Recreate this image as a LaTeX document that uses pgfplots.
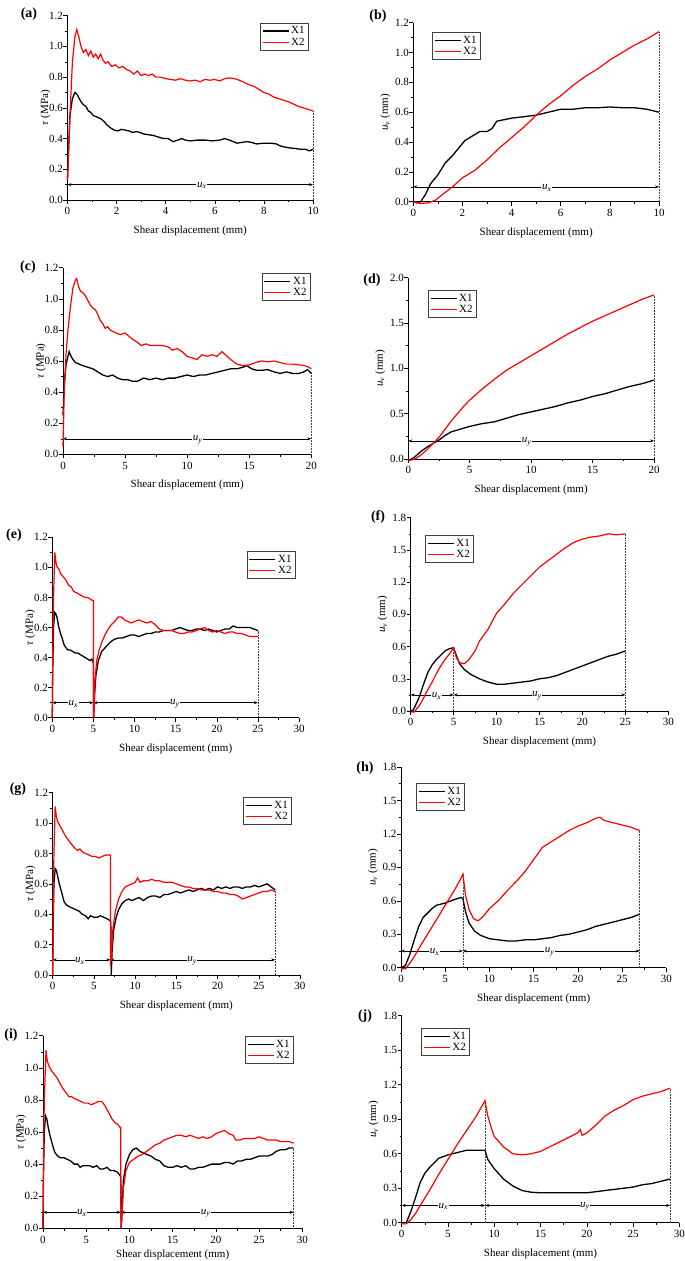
\documentclass[border=0pt]{standalone}
\usepackage{fontspec}
\setmainfont{Liberation Serif}
\usepackage{pgfplots}
\pgfplotsset{compat=1.18}
\usetikzlibrary{arrows.meta}
\tikzset{
 annot/.style={{Stealth[length=4pt,width=3pt]}-{Stealth[length=4pt,width=3pt]}, line width=0.5pt, black},
 dotl/.style={densely dotted, line width=0.55pt, black!75},
 ulab/.style={fill=white, inner sep=0.6pt, font=\fontsize{11}{12}\selectfont, yshift=-1pt},
 plab/.style={font=\bfseries\fontsize{14}{16}\selectfont},
}
\pgfplotsset{
 panel/.style={
  scale only axis, anchor=south west,
  axis lines=left, axis line style={-, line width=0.6pt},
  tick align=outside, major tick length=4pt, minor tick length=2.2pt,
  every tick/.style={black, line width=0.5pt},
  minor tick num=1,
  ymin=0, xmin=0,
  xlabel={Shear displacement (mm)},
  label style={font=\fontsize{11}{12}\selectfont},
  xlabel style={yshift=-4pt},
  tick label style={font=\fontsize{11}{12}\selectfont},
  /pgf/number format/assume math mode=true,
  clip=false,
  legend cell align=left,
  legend style={font=\fontsize{11}{12}\selectfont, draw=black!75, line width=0.8pt, inner sep=1.5pt, row sep=-1.5pt, anchor=north west},
  legend image code/.code={\draw[#1, line width=1.3pt] (0pt,0pt) -- (26pt,0pt);},
  yticklabel style={xshift=3pt, /pgf/number format/.cd, fixed, fixed zerofill, precision=1},
  xticklabel style={/pgf/number format/.cd, fixed, precision=0},
 },
 taupanel/.style={panel, ymax=1.2, ytick={0,0.2,0.4,0.6,0.8,1.0,1.2}, ylabel={\textit{τ} (MPa)}, ylabel style={yshift=-8pt}},
 uvpanel/.style={panel, ylabel={\textit{u}\textsubscript{\textit{v}} (mm)}, ylabel style={yshift=-2pt}},
 x30/.style={xmax=30, xtick={0,5,10,15,20,25,30}},
 bl/.style={black, line width=1.3pt},
 rd/.style={red, line width=1.2pt},
}
\newcommand{\ux}{\textit{u}\textsubscript{\textit{x}}}
\newcommand{\uy}{\textit{u}\textsubscript{\textit{y}}}
\begin{document}
\begin{tikzpicture}
\path[use as bounding box] (0pt,0pt) rectangle (685pt,-1261pt);
% ---------------- (a)
\node[plab] at (29pt,-14pt) {(a)};
\begin{axis}[taupanel, at={(67.5pt,-200pt)}, width=245.5pt, height=184.3pt,
 xmax=10, xtick={0,2,4,6,8,10}, legend style={at={(0.784,0.962)}}]
\draw[annot] (axis cs:0,0.1) -- (axis cs:10,0.1);
\node[ulab] at (axis cs:5.47,0.1) {\ux};
\draw[dotl] (axis cs:10,0) -- (axis cs:10,0.58);
\addplot[bl] coordinates {(0,0.13) (0.05,0.35) (0.1,0.55) (0.2,0.66) (0.3,0.70) (0.38,0.69) (0.45,0.67) (0.55,0.64) (0.65,0.62) (0.75,0.61) (0.85,0.58) (0.95,0.57) (1.05,0.55) (1.2,0.54) (1.35,0.53) (1.5,0.51) (1.6,0.49) (1.75,0.47) (1.9,0.455) (2.05,0.45) (2.2,0.46) (2.35,0.455) (2.5,0.45) (2.65,0.44) (2.8,0.445) (2.95,0.44) (3.1,0.43) (3.3,0.425) (3.5,0.42) (3.7,0.41) (3.9,0.40) (4.1,0.40) (4.3,0.38) (4.5,0.39) (4.65,0.40) (4.8,0.39) (5.0,0.385) (5.3,0.39) (5.6,0.39) (5.9,0.385) (6.2,0.39) (6.4,0.40) (6.6,0.39) (6.9,0.37) (7.1,0.375) (7.3,0.38) (7.5,0.375) (7.7,0.365) (8.0,0.37) (8.3,0.37) (8.5,0.365) (8.7,0.35) (9.0,0.34) (9.3,0.335) (9.5,0.33) (9.7,0.33) (9.85,0.32) (10,0.33)};
\addlegendentry{X1}
\addplot[rd] coordinates {(0,0.13) (0.1,0.55) (0.2,0.9) (0.3,1.06) (0.38,1.11) (0.45,1.07) (0.55,1.0) (0.65,0.96) (0.75,0.98) (0.85,0.94) (0.95,0.97) (1.05,0.93) (1.15,0.95) (1.25,0.92) (1.35,0.95) (1.45,0.91) (1.55,0.89) (1.65,0.90) (1.8,0.87) (1.95,0.88) (2.1,0.86) (2.25,0.87) (2.4,0.85) (2.55,0.84) (2.7,0.82) (2.85,0.84) (3.0,0.81) (3.15,0.82) (3.3,0.81) (3.45,0.82) (3.6,0.80) (3.8,0.80) (4.0,0.79) (4.2,0.785) (4.4,0.78) (4.6,0.79) (4.8,0.78) (5.0,0.775) (5.2,0.78) (5.4,0.77) (5.6,0.785) (5.8,0.78) (6.0,0.785) (6.2,0.775) (6.4,0.79) (6.6,0.795) (6.8,0.79) (7.0,0.78) (7.2,0.765) (7.4,0.75) (7.6,0.74) (7.8,0.72) (8.0,0.70) (8.2,0.69) (8.4,0.67) (8.6,0.66) (8.8,0.65) (9.0,0.64) (9.2,0.625) (9.4,0.61) (9.6,0.60) (9.8,0.59) (10,0.58)};
\addlegendentry{X2}
\end{axis}
% ---------------- (b)
\node[plab] at (378pt,-16pt) {(b)};
\begin{axis}[uvpanel, at={(413.3pt,-201.7pt)}, width=245.7pt, height=179pt,
 xmax=10, xtick={0,2,4,6,8,10}, ymax=1.2, ytick={0,0.2,0.4,0.6,0.8,1.0,1.2}, legend style={at={(0.076,0.948)}}]
\draw[annot] (axis cs:0,0.1) -- (axis cs:10,0.1);
\node[ulab] at (axis cs:5.43,0.1) {\ux};
\draw[dotl] (axis cs:10,0) -- (axis cs:10,1.14);
\addplot[bl] coordinates {(0,0) (0.15,-0.008) (0.3,0.0) (0.5,0.05) (0.7,0.12) (1,0.18) (1.3,0.26) (1.6,0.31) (1.9,0.37) (2.1,0.41) (2.4,0.44) (2.7,0.47) (3,0.47) (3.2,0.49) (3.4,0.54) (3.7,0.55) (4,0.56) (4.5,0.57) (5,0.58) (5.5,0.60) (6,0.62) (6.5,0.62) (7,0.63) (7.5,0.63) (8,0.635) (8.5,0.63) (9,0.63) (9.5,0.62) (10,0.60)};
\addlegendentry{X1}
\addplot[rd] coordinates {(0,0) (0.3,-0.012) (0.6,-0.008) (0.9,0.01) (1.2,0.05) (1.6,0.1) (2,0.16) (2.5,0.21) (3,0.28) (3.5,0.36) (4,0.43) (4.5,0.5) (5,0.58) (5.5,0.65) (6,0.71) (6.5,0.78) (7,0.84) (7.5,0.89) (8,0.95) (8.5,1.0) (9,1.05) (9.5,1.09) (10,1.14)};
\addlegendentry{X2}
\end{axis}
% ---------------- (c)
\node[plab] at (28pt,-267pt) {(c)};
\begin{axis}[taupanel, at={(63pt,-454.3pt)}, width=248.3pt, height=186.6pt,
 xmax=20, xtick={0,5,10,15,20}, legend style={at={(0.801,0.972)}}]
\draw[annot] (axis cs:0,0.1) -- (axis cs:20,0.1);
\node[ulab] at (axis cs:10.85,0.1) {\uy};
\draw[dotl] (axis cs:20,0) -- (axis cs:20,0.52);
\addplot[bl] coordinates {(0,0.25) (0.1,0.45) (0.25,0.58) (0.4,0.63) (0.5,0.66) (0.65,0.63) (0.8,0.61) (1.0,0.59) (1.3,0.58) (1.6,0.57) (2.0,0.56) (2.4,0.55) (2.8,0.53) (3.2,0.51) (3.6,0.50) (4.0,0.51) (4.4,0.49) (4.8,0.48) (5.2,0.48) (5.6,0.47) (6.0,0.47) (6.5,0.49) (7.0,0.48) (7.5,0.49) (8.0,0.48) (8.5,0.49) (9.0,0.49) (9.5,0.50) (10.0,0.51) (10.5,0.50) (11.0,0.51) (11.5,0.51) (12.0,0.52) (12.5,0.53) (13.0,0.54) (13.5,0.55) (14.0,0.55) (14.5,0.56) (14.8,0.57) (15.2,0.55) (15.6,0.54) (16.0,0.54) (16.5,0.545) (17.0,0.53) (17.5,0.52) (18.0,0.53) (18.5,0.52) (19.0,0.52) (19.4,0.53) (19.7,0.545) (20.0,0.52)};
\addlegendentry{X1}
\addplot[rd] coordinates {(0,0.05) (0.1,0.4) (0.25,0.65) (0.4,0.8) (0.6,0.95) (0.8,1.07) (1.0,1.12) (1.1,1.13) (1.25,1.08) (1.4,1.05) (1.6,1.04) (1.8,1.02) (2.0,0.99) (2.2,0.96) (2.4,0.94) (2.6,0.93) (2.8,0.90) (3.0,0.86) (3.2,0.84) (3.4,0.81) (3.6,0.82) (3.8,0.80) (4.0,0.79) (4.3,0.78) (4.6,0.77) (5.0,0.78) (5.3,0.76) (5.6,0.74) (6.0,0.72) (6.3,0.70) (6.7,0.71) (7.0,0.70) (7.5,0.70) (8.0,0.70) (8.5,0.69) (8.8,0.67) (9.2,0.68) (9.6,0.66) (10.0,0.63) (10.4,0.62) (10.8,0.61) (11.2,0.64) (11.6,0.63) (12.0,0.64) (12.4,0.63) (12.8,0.66) (13.1,0.64) (13.5,0.61) (14.0,0.58) (14.5,0.57) (15.0,0.575) (15.5,0.59) (16.0,0.60) (16.5,0.595) (17.0,0.60) (17.5,0.59) (18.0,0.58) (18.5,0.58) (19.0,0.575) (19.5,0.57) (19.8,0.56) (20.0,0.55)};
\addlegendentry{X2}
\end{axis}
% ---------------- (d)
\node[plab] at (372pt,-280pt) {(d)};
\begin{axis}[uvpanel, at={(408.3pt,-459pt)}, width=245.7pt, height=181.3pt,
 xmax=20, xtick={0,5,10,15,20}, ymax=2.0, ytick={0,0.5,1.0,1.5,2.0}, legend style={at={(0.080,0.932)}}]
\draw[annot] (axis cs:0,0.2) -- (axis cs:20,0.2);
\node[ulab] at (axis cs:9.63,0.2) {\uy};
\draw[dotl] (axis cs:20,0) -- (axis cs:20,1.81);
\addplot[bl] coordinates {(0,-0.02) (0.5,0.02) (1,0.08) (1.5,0.13) (2,0.17) (2.5,0.21) (3,0.26) (3.5,0.30) (4,0.32) (5,0.36) (6,0.39) (7,0.41) (8,0.45) (9,0.49) (10,0.52) (11,0.55) (12,0.58) (13,0.62) (14,0.65) (15,0.69) (16,0.72) (17,0.76) (18,0.80) (19,0.83) (20,0.87)};
\addlegendentry{X1}
\addplot[rd] coordinates {(0,-0.02) (0.5,0.0) (1,0.04) (1.5,0.1) (2,0.17) (2.5,0.24) (3,0.33) (3.5,0.42) (4,0.50) (4.5,0.58) (5,0.65) (6,0.77) (7,0.88) (8,0.98) (9,1.06) (10,1.14) (11,1.22) (12,1.30) (13,1.38) (14,1.45) (15,1.52) (16,1.58) (17,1.64) (18,1.70) (19,1.76) (20,1.81)};
\addlegendentry{X2}
\end{axis}
% ---------------- (e)
\node[plab] at (14pt,-535pt) {(e)};
\begin{axis}[taupanel, x30, at={(52.3pt,-717.7pt)}, width=246.7pt, height=180.4pt,
 legend style={at={(0.789,0.924)}}]
\draw[annot] (axis cs:0,0.1) -- (axis cs:5,0.1);
\draw[annot] (axis cs:5,0.1) -- (axis cs:25,0.1);
\node[ulab] at (axis cs:2.55,0.1) {\ux};
\node[ulab] at (axis cs:14.9,0.1) {\uy};
\draw[dotl] (axis cs:25,0) -- (axis cs:25,0.58);
\addplot[bl] coordinates {(0,0.0) (0.05,0.3) (0.15,0.6) (0.3,0.70) (0.45,0.69) (0.6,0.66) (0.8,0.60) (1.0,0.56) (1.2,0.53) (1.4,0.49) (1.6,0.47) (1.9,0.45) (2.2,0.45) (2.5,0.44) (2.8,0.43) (3.1,0.43) (3.4,0.42) (3.7,0.41) (4.0,0.40) (4.3,0.39) (4.6,0.38) (4.8,0.39) (4.95,0.37) (5.0,0.36) (5.03,0.0) (5.1,0.12) (5.3,0.28) (5.6,0.38) (6.0,0.44) (6.5,0.47) (7.0,0.50) (7.5,0.52) (8.0,0.53) (8.5,0.53) (9.0,0.54) (9.5,0.55) (10.0,0.55) (10.5,0.54) (11.0,0.55) (11.5,0.56) (12.0,0.56) (12.5,0.57) (13.0,0.57) (13.5,0.58) (14.0,0.58) (14.5,0.58) (15.0,0.59) (15.5,0.60) (16.0,0.59) (16.5,0.58) (17.0,0.58) (17.5,0.59) (18.0,0.59) (18.5,0.58) (19.0,0.59) (19.5,0.58) (20.0,0.57) (20.5,0.58) (21.0,0.59) (21.5,0.59) (22.0,0.61) (22.5,0.60) (23.0,0.60) (23.5,0.60) (24.0,0.60) (24.5,0.59) (25.0,0.58)};
\addlegendentry{X1}
\addplot[rd] coordinates {(0,0.0) (0.05,0.4) (0.15,0.8) (0.3,1.10) (0.45,1.03) (0.6,1.0) (0.8,0.99) (1.0,0.96) (1.3,0.94) (1.6,0.92) (2.0,0.88) (2.3,0.87) (2.6,0.84) (3.0,0.83) (3.3,0.82) (3.6,0.81) (4.0,0.80) (4.3,0.80) (4.6,0.79) (4.9,0.78) (5.0,0.78) (5.01,0.0) (5.05,0.0) (5.2,0.25) (5.4,0.38) (5.7,0.45) (6.0,0.50) (6.4,0.55) (6.8,0.59) (7.2,0.62) (7.6,0.64) (8.0,0.67) (8.4,0.67) (8.8,0.65) (9.2,0.64) (9.6,0.63) (10.0,0.64) (10.5,0.65) (11.0,0.64) (11.5,0.63) (12.0,0.64) (12.5,0.62) (13.0,0.59) (13.5,0.58) (14.0,0.58) (14.5,0.58) (15.0,0.57) (15.5,0.56) (16.0,0.56) (16.5,0.57) (17.0,0.57) (17.5,0.58) (18.0,0.59) (18.5,0.60) (19.0,0.58) (19.5,0.57) (20.0,0.58) (20.5,0.57) (21.0,0.56) (21.5,0.57) (22.0,0.57) (22.5,0.56) (23.0,0.56) (23.5,0.55) (24.0,0.54) (24.5,0.54) (25.0,0.54)};
\addlegendentry{X2}
\end{axis}
% ---------------- (f)
\node[plab] at (378pt,-517pt) {(f)};
\begin{axis}[uvpanel, x30, at={(410.7pt,-711pt)}, width=257.6pt, height=193.3pt,
 ymax=1.8, ytick={0,0.3,0.6,0.9,1.2,1.5,1.8}, legend style={at={(0.056,0.910)}}]
\draw[annot] (axis cs:0,0.15) -- (axis cs:5,0.15);
\draw[annot] (axis cs:5,0.15) -- (axis cs:25,0.15);
\node[ulab] at (axis cs:3.0,0.15) {\ux};
\node[ulab] at (axis cs:14.7,0.15) {\uy};
\draw[dotl] (axis cs:5,0) -- (axis cs:5,0.59);
\draw[dotl] (axis cs:25,0) -- (axis cs:25,1.65);
\addplot[bl] coordinates {(0,0.0) (0.3,0.01) (0.6,0.06) (1,0.13) (1.5,0.25) (2,0.36) (2.5,0.43) (3,0.48) (3.5,0.52) (4,0.56) (4.5,0.58) (5,0.59) (5.3,0.52) (5.7,0.44) (6.2,0.39) (7,0.34) (8,0.30) (9,0.27) (10,0.25) (11,0.25) (12,0.26) (13,0.27) (14,0.28) (15,0.30) (16,0.31) (17,0.33) (18,0.36) (19,0.39) (20,0.42) (21,0.45) (22,0.48) (23,0.51) (24,0.53) (25,0.56)};
\addlegendentry{X1}
\addplot[rd] coordinates {(0,-0.01) (0.4,-0.01) (1,0.05) (1.5,0.12) (2,0.20) (2.5,0.27) (3,0.35) (3.5,0.42) (4,0.48) (4.5,0.53) (5,0.59) (5.3,0.50) (5.7,0.45) (6.2,0.44) (6.7,0.47) (7.5,0.56) (8,0.65) (9,0.76) (10,0.91) (11,1.00) (12,1.10) (13,1.18) (14,1.26) (15,1.34) (16,1.40) (17,1.46) (18,1.52) (19,1.57) (20,1.60) (21,1.62) (22,1.63) (23,1.65) (24,1.64) (25,1.65)};
\addlegendentry{X2}
\end{axis}
% ---------------- (g)
\node[plab] at (18pt,-789pt) {(g)};
\begin{axis}[taupanel, x30, at={(52.7pt,-975pt)}, width=247.3pt, height=182.3pt,
 legend style={at={(0.770,0.976)}}]
\draw[annot] (axis cs:0,0.1) -- (axis cs:7,0.1);
\draw[annot] (axis cs:7,0.1) -- (axis cs:27,0.1);
\node[ulab] at (axis cs:3.3,0.1) {\ux};
\node[ulab] at (axis cs:16.9,0.1) {\uy};
\draw[dotl] (axis cs:27,0) -- (axis cs:27,0.56);
\addplot[bl] coordinates {(0,0.0) (0.05,0.3) (0.15,0.6) (0.3,0.70) (0.45,0.69) (0.6,0.65) (0.8,0.60) (1.0,0.56) (1.2,0.52) (1.4,0.48) (1.7,0.46) (2.0,0.45) (2.4,0.44) (2.8,0.43) (3.2,0.42) (3.6,0.40) (4.0,0.39) (4.3,0.37) (4.6,0.39) (5.0,0.38) (5.4,0.38) (5.8,0.39) (6.2,0.38) (6.6,0.37) (6.9,0.36) (7.05,0.35) (7.1,0.0) (7.2,0.15) (7.4,0.30) (7.7,0.38) (8.0,0.43) (8.4,0.47) (8.8,0.49) (9.2,0.50) (9.6,0.49) (10.0,0.50) (10.5,0.51) (11.0,0.49) (11.5,0.51) (12.0,0.52) (12.5,0.52) (13.0,0.51) (13.5,0.53) (14.0,0.53) (14.5,0.54) (15.0,0.55) (15.5,0.54) (16.0,0.55) (16.5,0.56) (17.0,0.55) (17.5,0.56) (18.0,0.57) (18.5,0.56) (19.0,0.57) (19.5,0.56) (20.0,0.58) (20.5,0.57) (21.0,0.58) (21.5,0.57) (22.0,0.58) (22.5,0.58) (23.0,0.57) (23.5,0.58) (24.0,0.58) (24.5,0.59) (25.0,0.58) (25.5,0.59) (26.0,0.60) (26.5,0.58) (27.0,0.56)};
\addlegendentry{X1}
\addplot[rd] coordinates {(0,0.0) (0.05,0.4) (0.15,0.8) (0.3,1.11) (0.45,1.04) (0.6,1.01) (0.8,0.99) (1.0,0.97) (1.3,0.94) (1.6,0.91) (2.0,0.88) (2.3,0.86) (2.6,0.84) (3.0,0.82) (3.3,0.83) (3.6,0.81) (4.0,0.80) (4.4,0.79) (4.8,0.78) (5.2,0.78) (5.6,0.77) (6.0,0.78) (6.4,0.79) (6.8,0.79) (7.0,0.79) (7.01,0.08) (7.1,0.1) (7.3,0.3) (7.6,0.42) (8.0,0.50) (8.4,0.55) (8.8,0.58) (9.2,0.59) (9.6,0.60) (10.0,0.61) (10.3,0.64) (10.6,0.61) (11.0,0.62) (11.5,0.62) (12.0,0.63) (12.5,0.62) (13.0,0.62) (13.5,0.61) (14.0,0.61) (14.5,0.61) (15.0,0.60) (15.5,0.59) (16.0,0.58) (16.5,0.58) (17.0,0.57) (17.5,0.57) (18.0,0.56) (18.5,0.56) (19.0,0.56) (19.5,0.55) (20.0,0.55) (20.5,0.54) (21.0,0.54) (21.5,0.53) (22.0,0.53) (22.5,0.52) (23.0,0.50) (23.5,0.51) (24.0,0.52) (24.5,0.53) (25.0,0.54) (25.5,0.55) (26.0,0.55) (26.5,0.56) (27.0,0.55)};
\addlegendentry{X2}
\end{axis}
% ---------------- (h)
\node[plab] at (365pt,-768pt) {(h)};
\begin{axis}[uvpanel, x30, at={(401pt,-967.7pt)}, width=265.3pt, height=200.7pt,
 ymax=1.8, ytick={0,0.3,0.6,0.9,1.2,1.5,1.8}, legend style={at={(0.057,0.920)}}]
\draw[annot] (axis cs:0,0.15) -- (axis cs:7,0.15);
\draw[annot] (axis cs:7,0.15) -- (axis cs:27,0.15);
\node[ulab] at (axis cs:3.8,0.15) {\ux};
\node[ulab] at (axis cs:16.8,0.15) {\uy};
\draw[dotl] (axis cs:7,0) -- (axis cs:7,0.84);
\draw[dotl] (axis cs:27,0) -- (axis cs:27,1.23);
\addplot[bl] coordinates {(0,0) (0.5,0.02) (1,0.12) (1.5,0.25) (2,0.37) (2.5,0.45) (3,0.49) (3.5,0.53) (4,0.56) (5,0.58) (6,0.61) (6.8,0.63) (7,0.62) (7.3,0.50) (7.7,0.40) (8.3,0.33) (9,0.29) (10,0.26) (11,0.25) (12,0.24) (13,0.24) (14,0.25) (15,0.25) (16,0.26) (17,0.27) (18,0.29) (19,0.30) (20,0.32) (21,0.34) (22,0.37) (23,0.39) (24,0.41) (25,0.43) (26,0.45) (27,0.48)};
\addlegendentry{X1}
\addplot[rd] coordinates {(0,-0.01) (0.5,-0.01) (1,0.04) (1.5,0.10) (2,0.17) (3,0.30) (4,0.43) (5,0.56) (6,0.69) (6.5,0.76) (7,0.84) (7.3,0.65) (7.7,0.52) (8.2,0.44) (8.7,0.42) (9.3,0.46) (10,0.53) (11,0.60) (12,0.69) (13,0.77) (14,0.86) (15,0.97) (16,1.08) (17,1.13) (18,1.18) (19,1.23) (20,1.27) (21,1.30) (22,1.34) (22.5,1.35) (23,1.32) (24,1.30) (25,1.28) (26,1.26) (27,1.23)};
\addlegendentry{X2}
\end{axis}
% ---------------- (i)
\node[plab] at (11pt,-1035pt) {(i)};
\begin{axis}[taupanel, x30, at={(43pt,-1228.3pt)}, width=259.3pt, height=192.6pt,
 xlabel style={yshift=4.5pt}, legend style={at={(0.779,0.998)}}]
\draw[annot] (axis cs:0,0.1) -- (axis cs:9,0.1);
\draw[annot] (axis cs:9,0.1) -- (axis cs:29,0.1);
\node[ulab] at (axis cs:4.5,0.1) {\ux};
\node[ulab] at (axis cs:18.8,0.1) {\uy};
\draw[dotl] (axis cs:29,0) -- (axis cs:29,0.50);
\addplot[bl] coordinates {(0,0.0) (0.05,0.3) (0.15,0.6) (0.3,0.70) (0.45,0.68) (0.6,0.63) (0.8,0.58) (1.0,0.54) (1.2,0.50) (1.4,0.47) (1.7,0.45) (2.0,0.44) (2.4,0.44) (2.8,0.43) (3.2,0.42) (3.6,0.40) (4.0,0.40) (4.3,0.38) (4.6,0.39) (5.0,0.39) (5.4,0.39) (5.8,0.38) (6.2,0.39) (6.6,0.37) (7.0,0.37) (7.4,0.38) (7.8,0.36) (8.2,0.36) (8.6,0.35) (8.9,0.33) (9.0,0.32) (9.05,0.0) (9.1,0.05) (9.3,0.30) (9.6,0.40) (10.0,0.46) (10.4,0.49) (10.8,0.50) (11.2,0.48) (11.6,0.47) (12.0,0.46) (12.5,0.45) (13.0,0.43) (13.5,0.42) (14.0,0.39) (14.5,0.38) (15.0,0.38) (15.5,0.39) (16.0,0.38) (16.5,0.39) (17.0,0.37) (17.5,0.37) (18.0,0.38) (18.5,0.38) (19.0,0.39) (19.5,0.40) (20.0,0.40) (20.5,0.40) (21.0,0.41) (21.5,0.41) (22.0,0.40) (22.5,0.42) (23.0,0.42) (23.5,0.43) (24.0,0.43) (24.5,0.44) (25.0,0.45) (25.5,0.45) (26.0,0.45) (26.5,0.46) (27.0,0.48) (27.5,0.49) (28.0,0.49) (28.5,0.50) (29.0,0.50)};
\addlegendentry{X1}
\addplot[rd] coordinates {(0,0.0) (0.05,0.4) (0.15,0.8) (0.35,1.11) (0.5,1.04) (0.7,1.01) (1.0,0.98) (1.3,0.96) (1.6,0.94) (2.0,0.90) (2.3,0.87) (2.6,0.85) (3.0,0.82) (3.3,0.82) (3.6,0.81) (4.0,0.80) (4.4,0.79) (4.8,0.78) (5.2,0.78) (5.6,0.77) (6.0,0.78) (6.4,0.79) (6.8,0.79) (7.1,0.77) (7.4,0.74) (7.7,0.71) (8.0,0.68) (8.3,0.66) (8.6,0.65) (8.9,0.63) (9.0,0.63) (9.01,0.0) (9.1,0.05) (9.3,0.25) (9.6,0.36) (10.0,0.41) (10.5,0.43) (11.0,0.45) (11.5,0.46) (12.0,0.48) (12.5,0.50) (13.0,0.52) (13.5,0.53) (14.0,0.55) (14.5,0.56) (15.0,0.57) (15.5,0.58) (16.0,0.58) (16.5,0.57) (17.0,0.58) (17.5,0.57) (18.0,0.56) (18.5,0.57) (19.0,0.56) (19.5,0.57) (20.0,0.59) (20.5,0.60) (21.0,0.61) (21.5,0.59) (22.0,0.58) (22.3,0.55) (22.8,0.55) (23.3,0.56) (24.0,0.56) (24.5,0.56) (25.0,0.57) (25.5,0.56) (26.0,0.55) (26.5,0.55) (27.0,0.55) (27.5,0.54) (28.0,0.54) (28.5,0.54) (29.0,0.53)};
\addlegendentry{X2}
\end{axis}
% ---------------- (j)
\node[plab] at (365pt,-1016pt) {(j)};
\begin{axis}[uvpanel, x30, at={(401.7pt,-1222.7pt)}, width=277.6pt, height=207pt,
 ymax=1.8, ytick={0,0.3,0.6,0.9,1.2,1.5,1.8}, legend style={at={(0.070,0.941)}}]
\draw[annot] (axis cs:0,0.15) -- (axis cs:9,0.15);
\draw[annot] (axis cs:9,0.15) -- (axis cs:29,0.15);
\node[ulab] at (axis cs:4.5,0.15) {\ux};
\node[ulab] at (axis cs:19.8,0.15) {\uy};
\draw[dotl] (axis cs:9,0) -- (axis cs:9,1.06);
\draw[dotl] (axis cs:29,0) -- (axis cs:29,1.17);
\addplot[bl] coordinates {(0,0) (0.5,0.0) (1,0.10) (1.5,0.22) (2,0.35) (2.5,0.43) (3,0.48) (3.5,0.52) (4,0.56) (5,0.59) (6,0.61) (7,0.63) (8,0.63) (9,0.63) (9.3,0.55) (10,0.47) (11,0.38) (12,0.32) (13,0.28) (14,0.265) (15,0.26) (16,0.26) (17,0.26) (18,0.26) (19,0.26) (20,0.26) (21,0.27) (22,0.28) (23,0.29) (24,0.30) (25,0.31) (26,0.33) (27,0.34) (28,0.36) (29,0.38)};
\addlegendentry{X1}
\addplot[rd] coordinates {(0,-0.01) (0.5,-0.01) (1,0.03) (1.5,0.08) (2,0.15) (3,0.28) (4,0.42) (5,0.55) (6,0.68) (7,0.80) (8,0.92) (9,1.06) (9.3,0.93) (9.7,0.82) (10,0.75) (11,0.66) (12,0.60) (13,0.59) (14,0.60) (15,0.62) (16,0.66) (17,0.70) (18,0.74) (19,0.78) (19.3,0.81) (19.5,0.76) (20,0.78) (21,0.85) (22,0.93) (23,0.98) (24,1.02) (25,1.07) (26,1.10) (27,1.12) (28,1.14) (29,1.17)};
\addlegendentry{X2}
\end{axis}
\end{tikzpicture}
\end{document}
